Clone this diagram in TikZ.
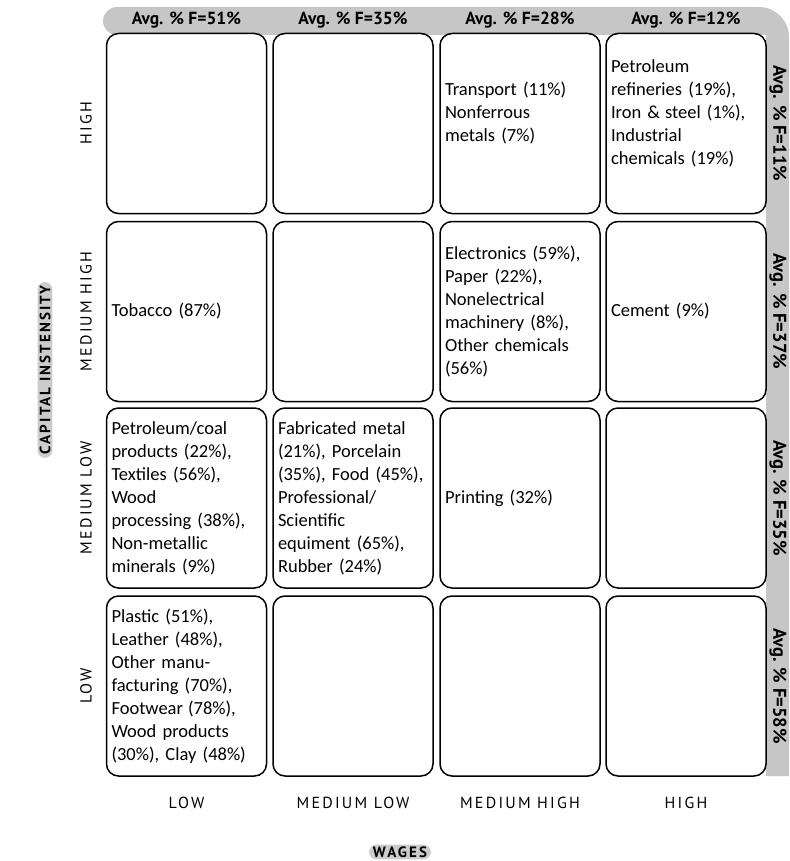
\documentclass[tikz,border=0pt]{standalone}
\usepackage{fontspec}
\setmainfont{PT Sans}
\newfontfamily\spacedfont[LetterSpace=14]{PT Sans}
\newfontfamily\cellfont{Carlito}
\usepackage{tikz}
\usetikzlibrary{calc}

\tikzset{
	cell/.style={draw, line width=1.5pt, rounded corners=12pt, fill=white, minimum width=160pt, minimum height=180pt, text width=150pt, inner xsep=5pt, inner ysep=8pt, align=left, font=\cellfont\fontsize{18.5}{23}\selectfont},
	raised/.style={execute at end node={\par\vspace{20pt}}},
	band/.style={fill=gray!45},
	avg/.style={font=\bfseries\fontsize{17.5}{19}\selectfont},
	sideavg/.style={avg, rotate=-90, font=\bfseries\fontsize{18.5}{19}\selectfont},
	level/.style={font=\spacedfont\fontsize{16}{18}\selectfont},
	pill/.style={fill=gray!40, rounded corners=8pt, inner xsep=4pt, inner ysep=2pt, font=\bfseries\spacedfont\fontsize{15}{16}\selectfont}
}

\begin{document}
\begin{tikzpicture}[x=1pt, y=-1pt]
			\useasboundingbox (0, 0) rectangle (789, 861);

			\fill[band](117, 7)--(759, 7) arc[radius=30, start angle=270, end angle=360]--(789, 776)--(766, 776)--(766, 35)--(117, 35) arc[radius=14, start angle=90, end angle=270]--cycle;

			\node[avg] (a1) at (186.5, 20) {Avg. \% F=51\%};
			\node[avg] (a2) at (353, 20) {Avg. \% F=35\%};
			\node[avg] (a3) at (520, 20) {Avg. \% F=28\%};
			\node[avg] (a4) at (686, 20) {Avg. \% F=12\%};

			\node[sideavg] (b1) at (778, 123.5) {Avg. \% F=11\%};
			\node[sideavg] (b2) at (778, 311.5) {Avg. \% F=37\%};
			\node[sideavg] (b3) at (778, 498) {Avg. \% F=35\%};
			\node[sideavg] (b4) at (778, 686) {Avg. \% F=58\%};

			\node[cell] (high-low) at (186.5, 123.5) {};
			\node[cell] (high-mlow) at (353, 123.5) {};
			\node[cell, raised] (high-mhigh) at (520, 123.5) {Transport (11\%)\\Nonferrous\\metals (7\%)};
			\node[cell, raised] (high-high) at (686, 123.5) {Petroleum\\refineries (19\%),\\Iron \&\hspace{5pt}steel (1\%),\\Industrial\\chemicals (19\%)};

			\node[cell] (mhigh-low) at (186.5, 311.5) {Tobacco (87\%)};
			\node[cell] (mhigh-mlow) at (353, 311.5) {};
			\node[cell] (mhigh-mhigh) at (520, 311.5) {Electronics (59\%),\\Paper (22\%),\\Nonelectrical\\machinery (8\%),\\Other chemicals\\(56\%)};
			\node[cell] (mhigh-high) at (686, 311.5) {Cement (9\%)};

			\node[cell] (mlow-low) at (186.5, 498) {Petroleum/coal\\products (22\%),\\Textiles (56\%),\\Wood\\processing (38\%),\\Non-metallic\\minerals (9\%)};
			\node[cell] (mlow-mlow) at (353, 498) {Fabricated metal\\(21\%), Porcelain\\(35\%), Food (45\%),\\Professional/\\Scientific\\equiment (65\%),\\Rubber (24\%)};
			\node[cell] (mlow-mhigh) at (520, 498) {Printing (32\%)};
			\node[cell] (mlow-high) at (686, 498) {};

			\node[cell] (low-low) at (186.5, 686) {Plastic (51\%),\\Leather (48\%),\\Other manu-\\facturing (70\%),\\Footwear\hspace{5pt}(78\%),\\Wood products\\(30\%), Clay (48\%)};
			\node[cell] (low-mlow) at (353, 686) {};
			\node[cell] (low-mhigh) at (520, 686) {};
			\node[cell] (low-high) at (686, 686) {};

			\node[level, rotate=90] (r-high) at (86, 123.5) {HIGH};
			\node[level, rotate=90] (r-mhigh) at (86, 311.5) {MEDIUM HIGH};
			\node[level, rotate=90] (r-mlow) at (86, 498) {MEDIUM LOW};
			\node[level, rotate=90] (r-low) at (86, 686) {LOW};

			\node[level] (c-low) at (186.5, 803) {LOW};
			\node[level] (c-mlow) at (353, 803) {MEDIUM LOW};
			\node[level] (c-mhigh) at (520, 803) {MEDIUM HIGH};
			\node[level] (c-high) at (686, 803) {HIGH};

			\node[pill, rotate=90] (capital) at (45, 370) {CAPITAL INSTENSITY};
			\node[pill] (wages) at (400, 852) {WAGES};
		\end{tikzpicture}
\end{document}
